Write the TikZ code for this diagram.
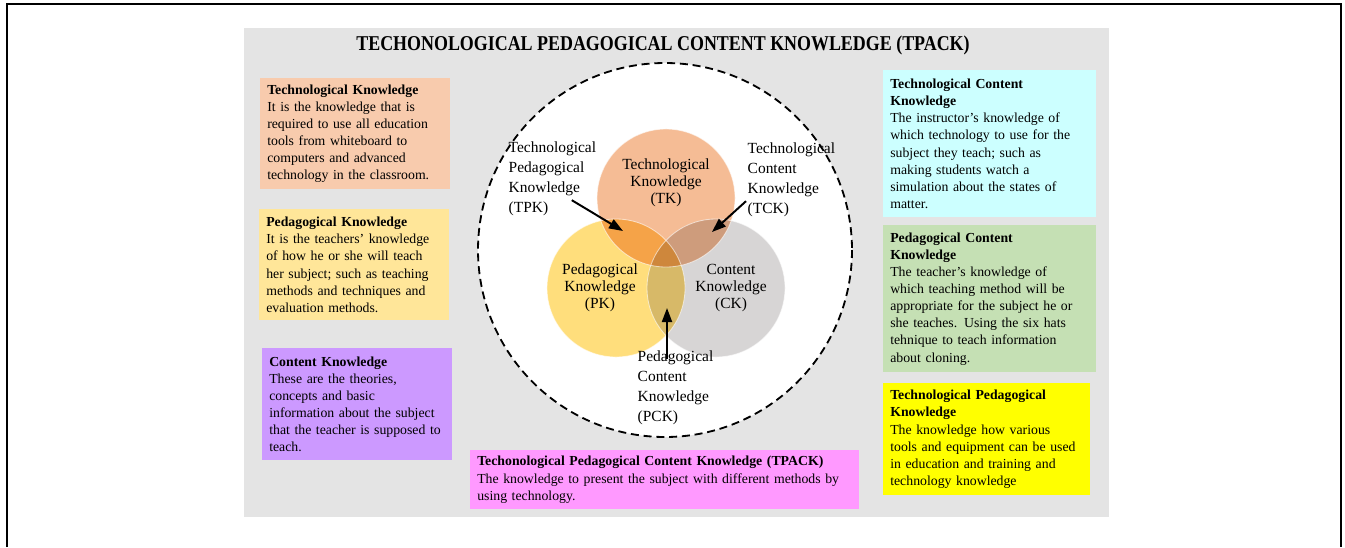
\documentclass[tikz,border=0pt]{standalone}
\usepackage{fontspec}
\setmainfont{Liberation Serif}
\newfontfamily\headfont[FakeStretch=0.85]{Liberation Serif}
\usetikzlibrary{arrows.meta}

\definecolor{panelgray}{HTML}{E4E4E4}
\definecolor{tkfill}{HTML}{F8CBAD}
\definecolor{pkfill}{HTML}{FFE699}
\definecolor{ckfill}{HTML}{CC99FF}
\definecolor{tpackfill}{HTML}{FF99FF}
\definecolor{tckfill}{HTML}{CCFFFF}
\definecolor{pckfill}{HTML}{C5E0B4}
\definecolor{tpkfill}{HTML}{FFFF00}
\definecolor{tkcirc}{HTML}{F4B183}
\definecolor{pkcirc}{HTML}{FFD966}
\definecolor{ckcirc}{HTML}{D0CECE}

\begin{document}
\begin{tikzpicture}
        [x=0.025cm, y=-0.025cm,
        infobox/.style={anchor=north west, inner xsep=0.175cm, inner ysep=0.1cm, align=left, font=\fontsize{9.8}{12.2}\selectfont},
        venn/.style={circle, minimum size=3.45cm, inner sep=0pt},
        vennlabel/.style={align=center, font=\fontsize{11}{12}\selectfont},
        sidelabel/.style={anchor=west, align=left, inner sep=1pt, font=\fontsize{11}{14.2}\selectfont},
        pointer/.style={line width=1.4pt, -{Triangle[length=0.35cm, width=0.25cm]}}]
        \useasboundingbox (0,0) rectangle (1345,547);
        % frame and background panel
        \draw[line width=2.1pt] (7,547) -- (7,4) -- (1341,4) -- (1341,547);
        \fill[panelgray] (244,28) rectangle (1109,517);
        \node[font=\headfont\bfseries\fontsize{15}{16}\selectfont] (title) at (663,45) {TECHONOLOGICAL PEDAGOGICAL CONTENT KNOWLEDGE (TPACK)};

        % dashed ring round the venn diagram
        \draw[line width=1.3pt, dash pattern=on 0.2cm off 0.12cm, fill=white] (665,250) circle[radius=187];

        \begin{scope}[blend mode=multiply, fill opacity=0.85]
        \node[venn, fill=ckcirc] (ckc) at (716,288) {};
        \node[venn, fill=tkcirc] (tkc) at (666,198) {};
        \node[venn, fill=pkcirc] (pkc) at (616,288) {};
        \end{scope}
        \foreach \c in {tkc,pkc,ckc}
            \draw[white, opacity=0.6, line width=0.6pt] (\c.center) circle[radius=69];

        \node[vennlabel] (tklabel) at (666,183) {Technological\\Knowledge\\(TK)};
        \node[vennlabel] (pklabel) at (600,288) {Pedagogical\\Knowledge\\(PK)};
        \node[vennlabel] (cklabel) at (731,288) {Content\\Knowledge\\(CK)};

        \node[sidelabel] (tpk) at (507,179) {Technological\\Pedagogical\\Knowledge\\(TPK)};
        \node[sidelabel] (tck) at (746,180) {Technological\\Content\\Knowledge\\(TCK)};
        \node[sidelabel] (pck) at (636,388) {Pedagogical\\Content\\Knowledge\\(PCK)};

        \coordinate (tpkpt) at (623,231);
        \coordinate (tckpt) at (712,232);
        \coordinate (pckpt) at (667,308);
        \draw[pointer] ([xshift=-0.65cm]tpk.-25) -- (tpkpt);
        \draw[pointer] (tck.205) -- (tckpt);
        \draw[pointer] ([yshift=-0.25cm]pck.north -| pckpt) -- (pckpt);

        % description boxes
        \node[infobox, fill=tkfill, text width=4.4cm, minimum height=2.775cm] (tkbox) at (260,78)
            {\textbf{Technological Knowledge}\\It is the knowledge that is\\required to use all education\\tools from whiteboard to\\computers and advanced\\technology in the classroom.};
        \node[infobox, fill=pkfill, text width=4.4cm, minimum height=2.775cm] (pkbox) at (259,209)
            {\textbf{Pedagogical Knowledge}\\It is the teachers' knowledge\\of how he or she will teach\\her subject; such as teaching\\methods and techniques and\\evaluation methods.};
        \node[infobox, fill=ckfill, text width=4.4cm, minimum height=2.8cm] (ckbox) at (262,348)
            {\textbf{Content Knowledge}\\These are the theories,\\concepts and basic\\information about the subject\\that the teacher is supposed to\\teach.};
        \node[infobox, fill=tpackfill, text width=9.375cm, minimum height=1.475cm] (tpackbox) at (470,450)
            {\textbf{Techonological Pedagogical Content Knowledge (TPACK)}\\The knowledge to present the subject with different methods by\\using technology.};
        \node[infobox, fill=tckfill, text width=4.975cm, minimum height=3.675cm] (tckbox) at (883,70)
            {\textbf{Technological Content}\\\textbf{Knowledge}\\The instructor's knowledge of\\which technology to use for the\\subject they teach; such as\\making students watch a\\simulation about the states of\\matter.};
        \node[infobox, fill=pckfill, text width=4.975cm, minimum height=3.675cm] (pckbox) at (883,225)
            {\textbf{Pedagogical Content}\\\textbf{Knowledge}\\The teacher's knowledge of\\which teaching method will be\\appropriate for the subject he or\\she teaches. Using the six hats\\tehnique to teach information\\about cloning.};
        \node[infobox, fill=tpkfill, text width=4.825cm, minimum height=2.8cm] (tpkbox) at (883,383)
            {\textbf{Technological Pedagogical}\\\textbf{Knowledge}\\The knowledge how various\\tools and equipment can be used\\in education and training and\\technology knowledge};
\end{tikzpicture}
\end{document}
